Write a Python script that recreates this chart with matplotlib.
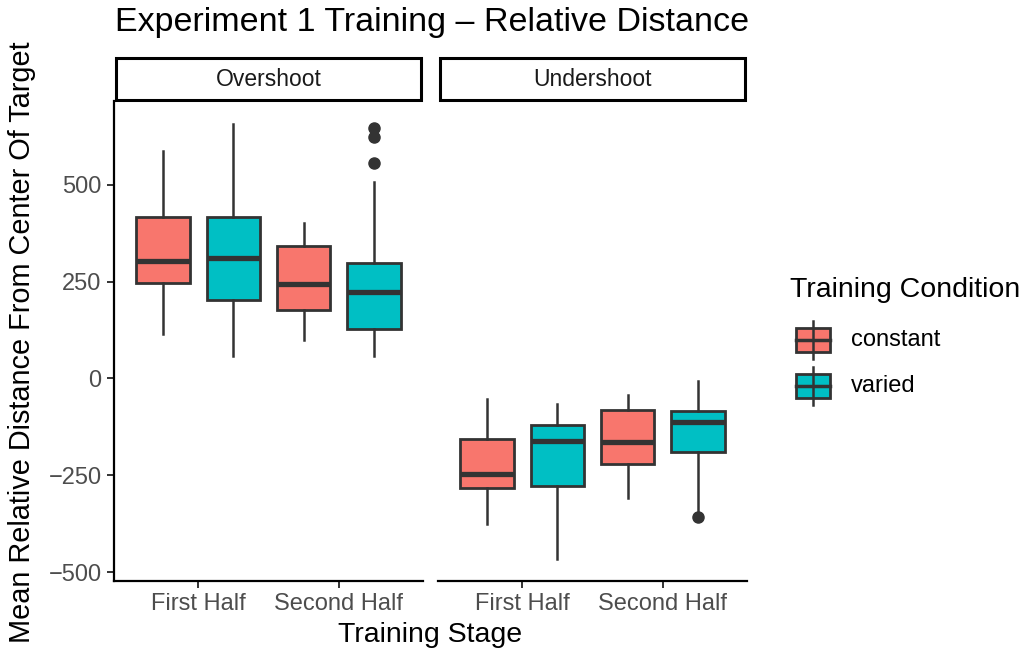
import numpy as np
import matplotlib.pyplot as plt
from matplotlib.patches import Rectangle

plt.rcParams['font.family'] = ['Liberation Sans', 'DejaVu Sans']

panels = ["Overshoot", "Undershoot"]
stages = ["First Half", "Second Half"]
conditions = ["constant", "varied"]
colors = {"constant": "#F8766D", "varied": "#00BFC4"}

# box stats per panel, ordered (stage, condition): FH-const, FH-varied, SH-const, SH-varied
whislo = {"Overshoot": [114, 57, 99, 57], "Undershoot": [-375, -467, -310, -343]}
q1 = {"Overshoot": [246, 203, 176, 128], "Undershoot": [-282, -278, -221, -190]}
med = {"Overshoot": [302, 310, 244, 222], "Undershoot": [-247, -161, -165, -112]}
q3 = {"Overshoot": [417, 416, 342, 297], "Undershoot": [-156, -120, -81, -84]}
whishi = {"Overshoot": [588, 656, 400, 506], "Undershoot": [-52, -66, -44, -6]}
fliers = {"Overshoot": [[], [], [], [646, 622, 556]],
          "Undershoot": [[], [], [], [-357]]}

yticks = [-500, -250, 0, 250, 500]
ylabels = ["\u2212500", "\u2212250", "0", "250", "500"]

fig = plt.figure(figsize=(10.29, 6.55), dpi=100)
edge = "#333333"
lefts = [114 / 1029, 438 / 1029]
pw = 309 / 1029
bottom = 1 - 581 / 655
ph = 480 / 655

for p, name in enumerate(panels):
    ax = fig.add_axes([lefts[p], bottom, pw, ph])
    stats = []
    pos = []
    cols = []
    k = 0
    for s in range(len(stages)):
        for c, cond in enumerate(conditions):
            stats.append(dict(whislo=whislo[name][k], q1=q1[name][k], med=med[name][k],
                              q3=q3[name][k], whishi=whishi[name][k], fliers=fliers[name][k]))
            pos.append(s + 1 + (c - 0.5) * 0.5)
            cols.append(colors[cond])
            k += 1
    bp = ax.bxp(stats, positions=pos, widths=0.38, patch_artist=True, showcaps=False,
                boxprops=dict(edgecolor=edge, linewidth=2.0),
                medianprops=dict(color=edge, linewidth=3.8, solid_capstyle='butt'),
                whiskerprops=dict(color=edge, linewidth=1.8),
                flierprops=dict(marker='o', markerfacecolor=edge, markeredgecolor=edge, markersize=8))
    for patch, col in zip(bp['boxes'], cols):
        patch.set_facecolor(col)
    ax.set_xlim(0.4, 2.6)
    ax.set_ylim(-523, 716)
    ax.set_xticks([1, 2])
    ax.set_xticklabels(stages, fontsize=17, color="#4D4D4D")
    for sp in ["top", "right"]:
        ax.spines[sp].set_visible(False)
    ax.spines["bottom"].set_linewidth(1.6)
    ax.spines["left"].set_linewidth(1.6)
    ax.tick_params(axis='both', length=5, width=1.4, color="#333333", pad=4)
    if p == 0:
        ax.set_yticks(yticks)
        ax.set_yticklabels(ylabels, fontsize=17, color="#4D4D4D")
    else:
        ax.spines["left"].set_visible(False)
        ax.set_yticks([])

    # strip
    sax = fig.add_axes([lefts[p], bottom + ph, pw, 44 / 655])
    sax.set_xlim(0, 1)
    sax.set_ylim(0, 1)
    sax.axis('off')
    sax.add_patch(Rectangle((0.005, 0.02), 0.99, 0.96, facecolor='white', edgecolor='black',
                            linewidth=2.2, transform=sax.transAxes, clip_on=False))
    sax.text(0.5, 0.5, name, ha='center', va='center', fontsize=16.5, color="#1A1A1A")

fig.text(115 / 1029, 1 - 22 / 655, "Experiment 1 Training \u2013 Relative Distance",
         fontsize=24.5, ha='left', va='center')
fig.text(430 / 1029, 1 - 635 / 655, "Training Stage", fontsize=20.5, ha='center', va='center')
fig.text(22 / 1029, 1 - 342 / 655, "Mean Relative Distance From Center Of Target",
         fontsize=20.8, rotation=90, ha='center', va='center')

# legend
fig.text(790 / 1029, 1 - 290 / 655, "Training Condition", fontsize=20.5, ha='left', va='center')
lax = fig.add_axes([0, 0, 1, 1], facecolor='none')
lax.set_xlim(0, 1029)
lax.set_ylim(655, 0)
lax.axis('off')
for i, cond in enumerate(conditions):
    yc = 340 + i * 46
    lax.plot([813, 813], [yc - 19, yc + 19], color=edge, linewidth=1.8)
    lax.add_patch(Rectangle((796, yc - 12), 34, 24, facecolor=colors[cond], edgecolor=edge, linewidth=2.0))
    lax.plot([796, 830], [yc, yc], color=edge, linewidth=2.5)
    lax.text(851, yc, cond, fontsize=17, ha='left', va='center')

fig.savefig("out.png", dpi=100)
